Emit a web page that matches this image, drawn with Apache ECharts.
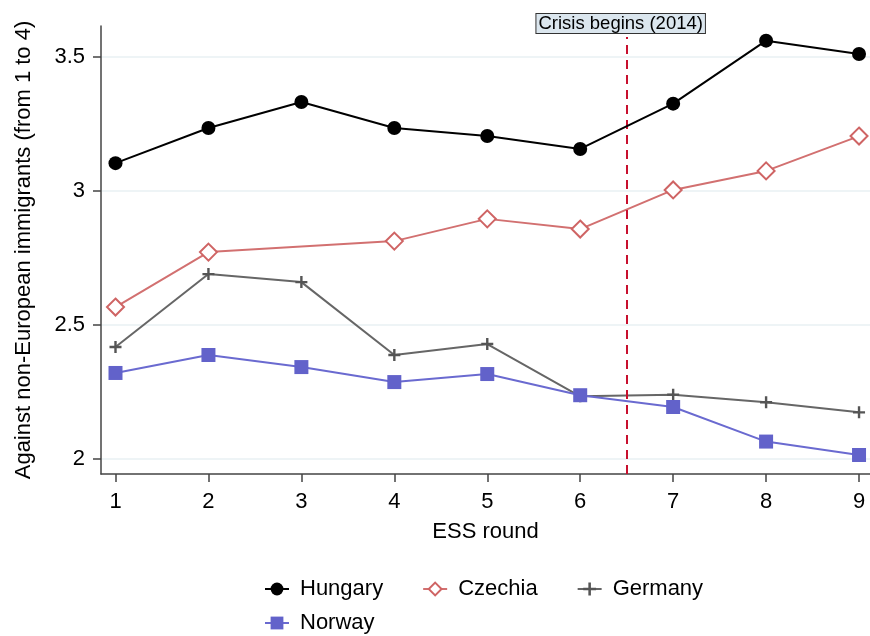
<!DOCTYPE html>
<html><head><meta charset="utf-8">
<script src="https://cdn.jsdelivr.net/npm/echarts@6/dist/echarts.min.js"></script>
<style>html,body{margin:0;padding:0;background:#fff}#c{width:870px;height:636px}</style>
</head><body><div id="c"></div>
<script>
const rounds = [1,2,3,4,5,6,7,8,9];
const hungary = [3.104, 3.235, 3.332, 3.235, 3.205, 3.157, 3.326, 3.561, 3.511];
const czechia = [2.567, 2.772, null, 2.813, 2.896, 2.858, 3.004, 3.075, 3.205];
const germany = [2.418, 2.690, 2.660, 2.388, 2.429, 2.234, 2.240, 2.212, 2.174];
const norway  = [2.321, 2.388, 2.343, 2.287, 2.317, 2.238, 2.194, 2.065, 2.015];
const yTicks = [2, 2.5, 3, 3.5];
const crisisX = 6.5;
const crisisLabel = 'Crisis begins (2014)';

const FONT = 'Liberation Sans, Arial, sans-serif';
const pair = arr => rounds.map((r,i)=>[r, arr[i]]);
const plus = 'path://M4,0h2v10h-2z M0,4h10v2h-10z';

const chart = echarts.init(document.getElementById('c'));
chart.setOption({
  animation:false,
  backgroundColor:'#fff',
  textStyle:{fontFamily:FONT},
  grid:{left:101, right:0, top:26, bottom:162},
  xAxis:{
    type:'value', min:0.844, max:9.118,
    name:'ESS round', nameLocation:'middle', nameGap:47,
    nameTextStyle:{fontSize:22, color:'#000', fontFamily:FONT},
    axisLine:{show:true, lineStyle:{color:'#444', width:1.5}},
    axisTick:{show:true, length:8, customValues:rounds, lineStyle:{color:'#444', width:1.5}},
    axisLabel:{customValues:rounds, fontSize:22, color:'#000', margin:17, fontFamily:FONT},
    splitLine:{show:false}
  },
  yAxis:{
    type:'value', min:1.944, max:3.6157,
    name:'Against non-European immigrants (from 1 to 4)', nameLocation:'middle', nameGap:66,
    nameTextStyle:{fontSize:22, color:'#000', fontFamily:FONT},
    axisLine:{show:true, lineStyle:{color:'#444', width:1.5}},
    axisTick:{show:true, length:8, customValues:yTicks, lineStyle:{color:'#444', width:1.5}},
    axisLabel:{customValues:yTicks, fontSize:22, color:'#000', margin:16, fontFamily:FONT},
    splitLine:{show:true, lineStyle:{color:'#e9f0f3', width:1.5}}
  },
  legend:[
    {data:['Hungary','Czechia','Germany'], left:259, top:573, orient:'horizontal', itemGap:39,
     itemWidth:24, itemHeight:16, textStyle:{fontSize:22, color:'#000', padding:[0,0,0,6], fontFamily:FONT}},
    {data:['Norway'], left:259, top:607, orient:'horizontal',
     itemWidth:24, itemHeight:16, textStyle:{fontSize:22, color:'#000', padding:[0,0,0,6], fontFamily:FONT}}
  ],
  series:[
    {name:'Hungary', type:'line', data:pair(hungary), symbol:'circle', symbolSize:14,
     itemStyle:{color:'#000'}, lineStyle:{color:'#000', width:2}, z:5,
     markLine:{silent:true, symbol:['none','none'],
       lineStyle:{color:'#c8102e', type:[9,6], width:2},
       label:{show:true, position:'end', formatter:crisisLabel, fontSize:18.5, color:'#000',
              backgroundColor:'#dbe6ee', borderColor:'#333', borderWidth:1, padding:[0,2,0,2],
              distance:4, offset:[-6,0], fontFamily:FONT},
       data:[[{coord:[crisisX, 1.944]},{coord:[crisisX, 3.575]}]]}},
    {name:'Czechia', type:'line', data:pair(czechia), connectNulls:true, symbol:'emptyDiamond', symbolSize:17,
     itemStyle:{color:'#cf6464', borderWidth:2}, lineStyle:{color:'#d27070', width:2}, z:4},
    {name:'Germany', type:'line', data:pair(germany), symbol:plus, symbolSize:12,
     itemStyle:{color:'#555'}, lineStyle:{color:'#666', width:2}, z:3},
    {name:'Norway', type:'line', data:pair(norway), symbol:'rect', symbolSize:14,
     itemStyle:{color:'#6262ca'}, lineStyle:{color:'#6a6ad0', width:2}, z:3}
  ]
});
</script></body></html>
